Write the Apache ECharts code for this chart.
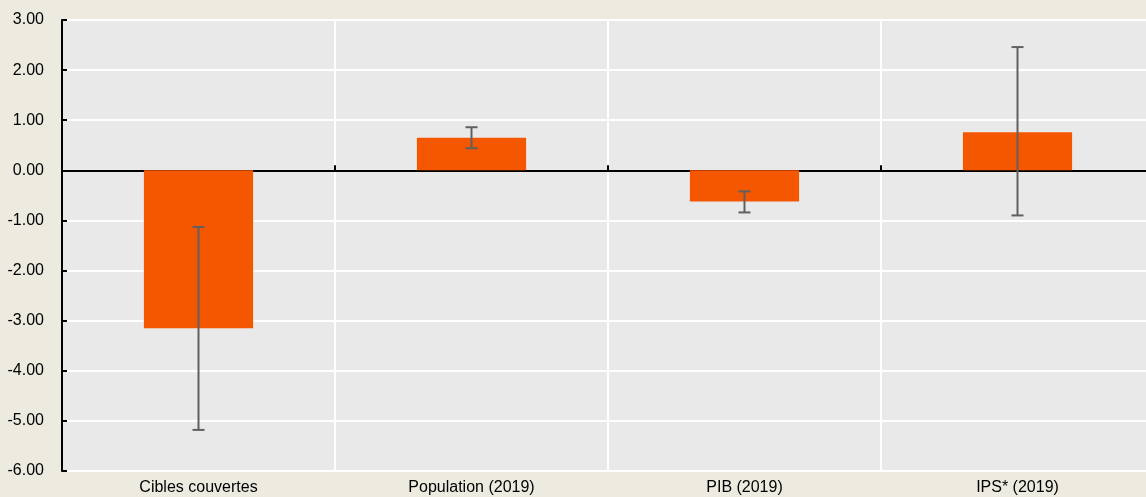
<!DOCTYPE html>
<html>
<head>
<meta charset="utf-8">
<style>
  html, body { margin: 0; padding: 0; background: #edeae0; }
  #chart { width: 1146px; height: 497px; }
</style>
<script src="https://cdn.jsdelivr.net/npm/echarts@6/dist/echarts.min.js"></script>
</head>
<body>
<div id="chart"></div>
<script>
const categories = ['Cibles couvertes', 'Population (2019)', 'PIB (2019)', 'IPS* (2019)']
const values = [-3.15, 0.65, -0.62, 0.76]
const errLow = [-5.18, 0.44, -0.84, -0.90]
const errHigh = [-1.13, 0.86, -0.42, 2.46]

const font = "'Liberation Sans', Arial, sans-serif"

const chart = echarts.init(document.getElementById('chart'))

chart.setOption({
    backgroundColor: '#edeae0',
    animation: false,
    grid: {
        left: 62,
        right: -8,
        top: 20,
        bottom: 26,
        outerBoundsMode: 'none',
        show: true,
        backgroundColor: '#e9e9e9',
        borderWidth: 0
    },
    xAxis: [
        {
            type: 'category',
            data: categories,
            position: 'bottom',
            axisLine: { show: false, onZero: false },
            axisTick: { show: false },
            axisLabel: { color: '#000', fontFamily: font, fontSize: 16, margin: 9 },
            splitLine: { show: true, interval: 0, lineStyle: { color: '#ffffff', width: 2 } }
        },
        {
            type: 'category',
            data: categories,
            position: 'bottom',
            axisLine: { show: true, onZero: true, lineStyle: { color: '#000', width: 2 } },
            axisTick: { show: true, inside: true, length: 5, lineStyle: { color: '#000', width: 2 } },
            axisLabel: { show: false },
            splitLine: { show: false }
        }
    ],
    yAxis: {
        type: 'value',
        min: -6,
        max: 3,
        interval: 1,
        axisLine: { show: true, lineStyle: { color: '#000', width: 2 } },
        axisTick: { show: true, inside: true, length: 5, lineStyle: { color: '#000', width: 2 } },
        axisLabel: {
            color: '#000',
            fontFamily: font,
            fontSize: 16,
            margin: 18,
            formatter: v => v.toFixed(2)
        },
        splitLine: { show: true, lineStyle: { color: '#ffffff', width: 2 } }
    },
    series: [
        {
            type: 'bar',
            data: values,
            barWidth: '40%',
            itemStyle: { color: '#f55700' },
            z: 2
        },
        {
            type: 'custom',
            data: categories.map((c, i) => [i, errLow[i], errHigh[i]]),
            z: 5,
            renderItem: (params, api) => {
                const lo = api.coord([api.value(0), api.value(1)])
                const hi = api.coord([api.value(0), api.value(2)])
                const half = 6
                const style = { stroke: '#606060', lineWidth: 2 }
                return {
                    type: 'group',
                    children: [
                        { type: 'line', shape: { x1: lo[0], y1: lo[1], x2: hi[0], y2: hi[1] }, style },
                        { type: 'line', shape: { x1: lo[0] - half, y1: lo[1], x2: lo[0] + half, y2: lo[1] }, style },
                        { type: 'line', shape: { x1: hi[0] - half, y1: hi[1], x2: hi[0] + half, y2: hi[1] }, style }
                    ]
                }
            }
        }
    ]
})
</script>
</body>
</html>
